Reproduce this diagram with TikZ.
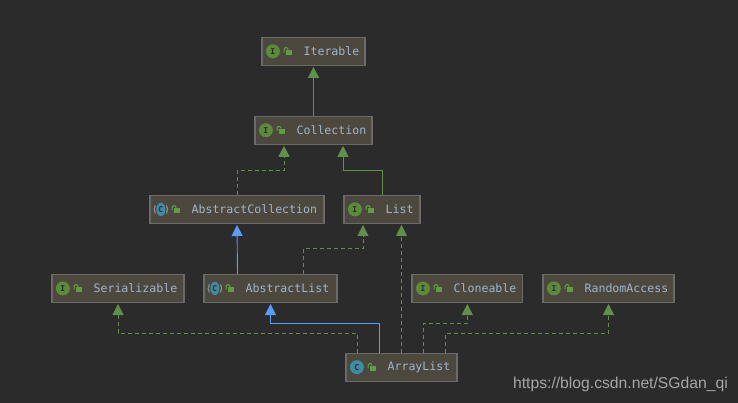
\documentclass[tikz,border=0pt]{standalone}
\usepackage{fontspec}
\setmainfont{Liberation Sans}
\setmonofont{DejaVu Sans Mono}
\usetikzlibrary{arrows.meta}
\usetikzlibrary{shapes.geometric}
\definecolor{canvasgray}{HTML}{2B2B2B}
\definecolor{boxfill}{HTML}{4C483D}
\definecolor{boxline}{HTML}{6A6A68}
\definecolor{namecolor}{HTML}{9DB6D0}
\definecolor{edgegreen}{HTML}{5F9148}
\definecolor{edgeblue}{HTML}{589DF6}
\definecolor{icongreen}{HTML}{5A8A3A}
\definecolor{lockgreen}{HTML}{5E9E40}
\definecolor{iconteal}{HTML}{3E8BA6}
\definecolor{icongray}{HTML}{8A8A86}
\definecolor{icontext}{HTML}{2B2B2B}
\definecolor{watermarkgray}{HTML}{A6A6A6}
\tikzset{
  typebox/.style={draw=boxline,fill=boxfill,line width=1.2pt,minimum height=28pt,inner sep=0pt},
  typename/.style={anchor=west,inner sep=0pt,text=namecolor,font=\ttfamily\fontsize{11.58pt}{13pt}\selectfont},
  iconletter/.style={inner sep=0pt,text=icontext,font=\ttfamily\bfseries\fontsize{8pt}{9pt}\selectfont},
  ifaceicon/.style={iconletter,circle,minimum size=14pt,fill=icongreen},
  classicon/.style={iconletter,circle,minimum size=14pt,fill=iconteal},
  abstracticon/.style={iconletter,ellipse,minimum width=9pt,minimum height=13.5pt,fill=iconteal},
  lockicon/.style={fill=lockgreen,minimum width=6.5pt,minimum height=5.5pt,inner sep=0pt},
  extendsedge/.style={-{Triangle[width=11pt,length=11pt]},shorten >=1pt,line width=0.9pt},
  extendsiface/.style={extendsedge,draw=edgegreen},
  implementsedge/.style={extendsiface,dash pattern=on 4pt off 3pt},
  extendsclass/.style={extendsedge,draw=edgeblue}
}
% name, centre x, centre y, width, icon style, icon letter, text
\newcommand{\typenode}[7]{
  \node[typebox,minimum width=#4pt] (#1) at (#2,#3) {};
  \node[#5] (#1icon) at ([xshift=11.5pt]#1.west) {#6};
  \node[lockicon] (#1lock) at ([xshift=27.5pt,yshift=-1.2pt]#1.west) {};
  \draw[lockgreen,line width=1.1pt] ([xshift=-0.8pt]#1lock.north) arc (0:180:2pt) -- ++(0,-2.6pt);
  \node[typename] (#1name) at ([xshift=42pt]#1.west) {#7};
}
% side marks of an abstract class icon
\newcommand{\abstractmarks}[1]{
  \draw[icongray,line width=1.2pt] ([xshift=-5.6pt,yshift=-4pt]#1icon.center) arc (210:150:8pt);
  \draw[icongray,line width=1.2pt] ([xshift=5.6pt,yshift=4pt]#1icon.center) arc (30:-30:8pt);
}
\begin{document}
\begin{tikzpicture}[x=1pt,y=-1pt]
\useasboundingbox[fill=canvasgray] (0,0) rectangle (738,403);
\typenode{iterable}{313.5}{51.3}{103}{ifaceicon}{I}{Iterable} %top
\typenode{collection}{313.5}{130.2}{117}{ifaceicon}{I}{Collection}
\typenode{abstractcollection}{237}{209.4}{174}{abstracticon}{C}{AbstractCollection}
\abstractmarks{abstractcollection}
\typenode{list}{382}{209.4}{76}{ifaceicon}{I}{List}
\typenode{serializable}{118}{288.4}{132}{ifaceicon}{I}{Serializable}
\typenode{abstractlist}{270.5}{288.4}{133}{abstracticon}{C}{AbstractList}
\abstractmarks{abstractlist}
\typenode{cloneable}{467.3}{288.4}{110.5}{ifaceicon}{I}{Cloneable}
\typenode{randomaccess}{608.5}{288.4}{131}{ifaceicon}{I}{RandomAccess}
\typenode{arraylist}{401.5}{367.2}{111}{classicon}{C}{ArrayList}
\draw[extendsiface] (collection.north) -- (iterable.south); %upper edges
\draw[implementsedge] (abstractcollection.north) -- ++(0,-24.5) -| ([xshift=-29.5pt]collection.south);
\draw[extendsiface] (list.north) -- ++(0,-24.5) -| ([xshift=29.5pt]collection.south);
\draw[extendsclass] ([xshift=-33pt]abstractlist.north) -- (abstractcollection.south);
\draw[implementsedge] ([xshift=32.5pt]abstractlist.north) -- ++(0,-25) -| ([xshift=-19pt]list.south);
\draw[implementsedge] ([xshift=-44pt]arraylist.north) -- ++(0,-19.5) -| (serializable.south); %lower edges
\draw[extendsclass] ([xshift=-22pt]arraylist.north) -- ++(0,-29.5) -| (abstractlist.south);
\draw[implementsedge] (arraylist.north) -- ([xshift=19.5pt]list.south);
\draw[implementsedge] ([xshift=21.5pt]arraylist.north) -- ++(0,-29.5) -| (cloneable.south);
\draw[implementsedge] ([xshift=44pt]arraylist.north) -- ++(0,-19.5) -| (randomaccess.south);
\node[text=watermarkgray,font=\fontsize{15.7pt}{17pt}\selectfont,anchor=east,inner sep=0pt] (watermark) at (728,384) {https://blog.csdn.net/SGdan\_qi};
\end{tikzpicture}
\end{document}
